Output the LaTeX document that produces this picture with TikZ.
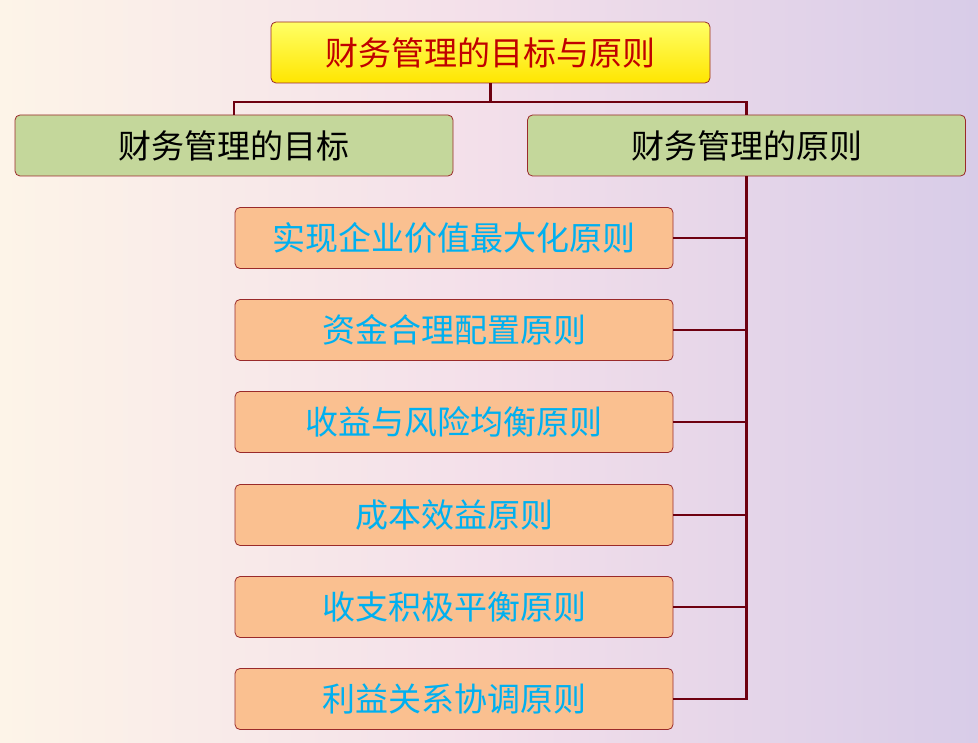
\documentclass[tikz,border=0pt]{standalone}
\usepackage{fontspec}
\newfontfamily\cjk{Noto Sans CJK SC}
\definecolor{bgL}{HTML}{FDF4E8}
\definecolor{bgM}{HTML}{F3DFEA}
\definecolor{bgR}{HTML}{D8CCE8}
\definecolor{ln}{HTML}{6E0010}
\definecolor{bd}{HTML}{9A2A2A}
\definecolor{grn}{HTML}{C4D79B}
\definecolor{org}{HTML}{FAC090}
\definecolor{cyn}{HTML}{00B0F0}
\definecolor{txr}{HTML}{C00000}
\begin{document}
\begin{tikzpicture}[x=1pt,y=-1pt,
 box/.style={draw=bd,line width=0.8pt,rounded corners=5pt,minimum width=438pt,minimum height=61pt,inner sep=0pt,font=\cjk\fontsize{33}{36}\selectfont},
 gbox/.style={box,fill=grn,text=black},
 obox/.style={box,fill=org,text=cyn},
 conn/.style={draw=ln,line width=2.2pt}]
\fill[left color=bgL,right color=bgR,middle color=bgM] (0,0) rectangle (978,743);
\useasboundingbox (0,0) rectangle (978,743);
\node[box,top color=yellow!60!white,bottom color=yellow!80!orange,text=txr,minimum width=439pt] (top) at (490.5,52.5) {财务管理的目标与原则};
\node[gbox] (g1) at (234,145.5) {财务管理的目标};
\node[gbox] (g2) at (746.5,145.5) {财务管理的原则};
\node[obox] (o1) at (454,238) {实现企业价值最大化原则};
\node[obox] (o2) at (454,330) {资金合理配置原则};
\node[obox] (o3) at (454,422) {收益与风险均衡原则};
\node[obox] (o4) at (454,515) {成本效益原则};
\node[obox] (o5) at (454,607) {收支积极平衡原则};
\node[obox] (o6) at (454,699) {利益关系协调原则};
\coordinate (j) at ([yshift=-19pt]top.south);
\draw[conn] (top.south) -- (j);
\draw[conn] (g1.north) -- (g1.north |- j) -- (g2.north |- j) -- (g2.north);
\draw[conn] (g2.south) -- (g2.south |- o6.east) -- (o6.east);
\foreach \n in {o1,o2,o3,o4,o5}{\draw[conn] (\n.east) -- (\n.east -| g2.south);}
\end{tikzpicture}
\end{document}
